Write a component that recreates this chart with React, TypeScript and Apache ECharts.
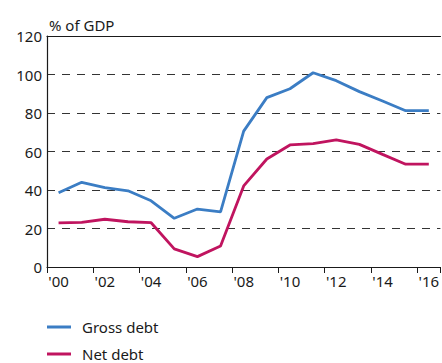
import React, { useEffect, useRef } from "react";
import * as echarts from "echarts";

const years = ["'00", "'01", "'02", "'03", "'04", "'05", "'06", "'07", "'08", "'09", "'10", "'11", "'12", "'13", "'14", "'15", "'16"];
const grossDebt = [38.6, 44.0, 41.2, 39.6, 34.4, 25.3, 30.1, 28.6, 70.6, 88.0, 92.6, 100.9, 96.8, 91.1, 86.2, 81.2, 81.2];
const netDebt = [22.9, 23.2, 24.8, 23.5, 23.0, 9.4, 5.4, 10.9, 42.1, 56.1, 63.4, 64.1, 66.0, 63.7, 58.5, 53.4, 53.4];
const seriesNames = ["Gross debt", "Net debt"];
const yTitle = "% of GDP";

const BLUE = "#3b7dc4";
const RED = "#c0145f";
const FONT = "Noto Sans";

export default function App() {
  const ref = useRef<HTMLDivElement>(null);
  useEffect(() => {
    if (!ref.current) return;
    const chart = echarts.init(ref.current, undefined, { renderer: "svg" });
    chart.setOption({
      animation: false,
      textStyle: { fontFamily: FONT },
      grid: { left: 47, top: 36, width: 396, height: 231 },
      legend: {
        orient: "vertical",
        left: 47,
        top: 319,
        padding: 0,
        itemWidth: 24,
        itemHeight: 3,
        itemGap: 11,
        icon: "rect",
        textStyle: { fontFamily: FONT, fontSize: 15, lineHeight: 16, color: "#1a1a1a", padding: [0, 0, 0, 6] },
        data: seriesNames,
      },
      xAxis: [
        {
          type: "category",
          data: years,
          boundaryGap: true,
          axisLine: { lineStyle: { color: "#1a1a1a", width: 1.2 } },
          axisTick: { show: true, inside: false, length: 6, alignWithLabel: false, lineStyle: { color: "#1a1a1a" } },
          axisLabel: { show: true, interval: 1, margin: 6, fontSize: 15, color: "#1a1a1a", fontFamily: FONT },
          splitLine: { show: false },
        },
        {
          type: "category",
          data: years,
          position: "top",
          axisLine: { lineStyle: { color: "#1a1a1a", width: 1.2 } },
          axisTick: { show: false },
          axisLabel: { show: false },
        },
      ],
      yAxis: {
        type: "value",
        min: 0,
        max: 120,
        interval: 20,
        name: yTitle,
        nameLocation: "end",
        nameGap: 4,
        nameTextStyle: { fontFamily: FONT, fontSize: 15, color: "#1a1a1a", align: "left", padding: [0, 0, 0, 2] },
        axisLine: { show: true, lineStyle: { color: "#1a1a1a", width: 1.2 } },
        axisTick: { show: false },
        axisLabel: { margin: 5, fontSize: 15, color: "#1a1a1a", fontFamily: FONT },
        splitLine: {
          show: true,
          lineStyle: { color: "#333", type: [8, 7], width: 1.2 },
        },
      },
      series: [
        {
          name: seriesNames[0],
          type: "line",
          data: grossDebt,
          symbol: "none",
          lineStyle: { color: BLUE, width: 2.8 },
          itemStyle: { color: BLUE },
        },
        {
          name: seriesNames[1],
          type: "line",
          data: netDebt,
          symbol: "none",
          lineStyle: { color: RED, width: 2.8 },
          itemStyle: { color: RED },
        },
      ],
    });
    return () => chart.dispose();
  }, []);
  return (
    <div
      ref={ref}
      style={{ position: "absolute", left: 0, top: 0, width: 442, height: 363, background: "#fff" }}
    />
  );
}
